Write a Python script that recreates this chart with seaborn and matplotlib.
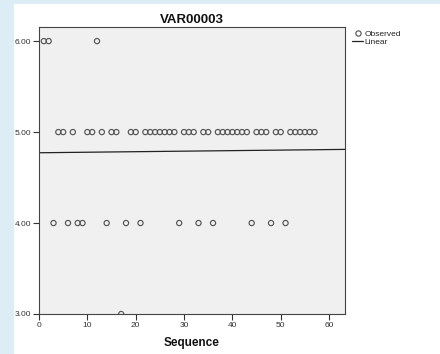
import numpy as np
import pandas as pd
import matplotlib
matplotlib.use("Agg")
import matplotlib.pyplot as plt
import seaborn as sns
from matplotlib.lines import Line2D
from matplotlib.patches import Rectangle

sequence = list(range(1, 58))
values = [6, 6, 4, 5, 5, 4, 5, 4, 4, 5,
          5, 6, 5, 4, 5, 5, 3, 4, 5, 5,
          4, 5, 5, 5, 5, 5, 5, 5, 4, 5,
          5, 5, 4, 5, 5, 4, 5, 5, 5, 5,
          5, 5, 5, 4, 5, 5, 5, 4, 5, 5,
          4, 5, 5, 5, 5, 5, 5]
x_ticks = [0, 10, 20, 30, 40, 50, 60]
y_ticks = [3, 4, 5, 6]
title = "VAR00003"
x_label = "Sequence"
legend_labels = ["Observed", "Linear"]

df = pd.DataFrame({"Sequence": sequence, "VAR00003": values})

sns.set_theme(style="white")
plt.rcParams['font.family'] = ['Liberation Sans', 'DejaVu Sans']

fig = plt.figure(figsize=(4.4, 3.54), dpi=100)
fig.patch.set_facecolor("white")
fig.patches.append(Rectangle((0, 0), 14 / 440, 1, transform=fig.transFigure,
                             facecolor="#dcedf6", edgecolor="none", zorder=-10))
fig.patches.append(Rectangle((0, 1 - 4 / 354), 1, 4 / 354, transform=fig.transFigure,
                             facecolor="#dcedf6", edgecolor="none", zorder=-10))

ax = fig.add_axes([39 / 440, 1 - 314 / 354, (345 - 39) / 440, (314 - 27) / 354])
ax.set_facecolor("#f0f0f0")

ax.set_xlim(0, 63.3)
ax.set_ylim(3.0, 6.155)

sns.regplot(data=df, x="Sequence", y="VAR00003", ax=ax, scatter=False, ci=None,
            truncate=False, line_kws=dict(color="#222222", lw=0.9))
sns.scatterplot(data=df, x="Sequence", y="VAR00003", ax=ax, marker="o", s=14,
                facecolor="none", edgecolor="#555555", linewidth=0.85, zorder=3)

ax.set_xlim(0, 63.3)
ax.set_ylim(3.0, 6.155)
ax.set_xticks(x_ticks)
ax.set_yticks(y_ticks)
ax.set_xticklabels([str(t) for t in x_ticks])
ax.set_yticklabels([f"{t:.2f}" for t in y_ticks])
ax.tick_params(axis="both", direction="out", length=4, width=0.8, color="#333333",
               labelsize=6, labelcolor="#333333", pad=1.5, bottom=True, left=True)
for s in ax.spines.values():
    s.set_color("#444444")
    s.set_linewidth(0.8)

ax.set_title(title, fontsize=9.5, fontweight="bold", color="#111111", pad=3)
ax.set_xlabel(x_label, fontsize=8.5, fontweight="bold", color="#111111", labelpad=6)
ax.set_ylabel("")

handles = [Line2D([], [], marker="o", ls="none", markerfacecolor="none",
                  markeredgecolor="#555555", markersize=3.8, markeredgewidth=0.85),
           Line2D([], [], color="#222222", lw=0.9)]
fig.legend(handles, legend_labels, loc="upper left", bbox_to_anchor=(348 / 440, 1 - 26 / 354),
           frameon=False, fontsize=6, handlelength=1.3, handletextpad=0.2,
           labelspacing=0.05, borderpad=0, labelcolor="#222222")

fig.savefig("out.png", dpi=100)
